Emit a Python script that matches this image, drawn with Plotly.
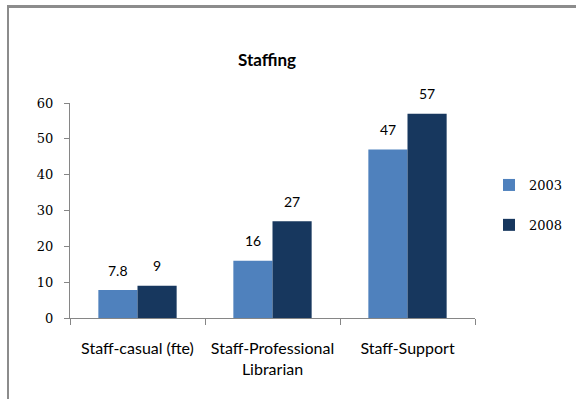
import plotly.graph_objects as go

categories = ["Staff-casual (fte)", "Staff-Professional<br>Librarian", "Staff-Support"]
years = ["2003", "2008"]
values_2003 = [7.8, 16, 47]
values_2008 = [9, 27, 57]
colors = ["#4F81BD", "#17375E"]
y_ticks = [0, 10, 20, 30, 40, 50, 60]

W, H = 576, 399
L, R, T, B = 70, 101, 103, 81
pw, ph = W - L - R, H - T - B
BARGAP = 0.42


def px_to_paper_x(px):
    return (px - L) / pw


def px_to_paper_y(py):
    return (H - B - py) / ph


fig = go.Figure()
series = [values_2003, values_2008]
for i, (yr, vals) in enumerate(zip(years, series)):
    fig.add_trace(go.Bar(
        x=categories, y=vals, name=yr,
        marker=dict(color=colors[i], line=dict(width=0)),
        legendgroup=yr,
    ))

# value labels above each bar
cat_px = pw / len(categories)
bar_px = cat_px * (1 - BARGAP) / len(series)
annotations = []
for i, vals in enumerate(series):
    offset = (i - (len(series) - 1) / 2) * bar_px
    for c, v in zip(categories, vals):
        annotations.append(dict(
            x=c, y=v, xref="x", yref="y", text=f"{v:g}", showarrow=False,
            xshift=offset, yshift=20, yanchor="middle",
            font=dict(family="Lato, sans-serif", size=14, color="#000"),
        ))

fig.update_layout(
    width=W, height=H,
    margin=dict(l=L, r=R, t=T, b=B, autoexpand=False),
    paper_bgcolor="white", plot_bgcolor="white",
    barmode="group", bargap=BARGAP, bargroupgap=0,
    title=dict(text="<b>Staffing</b>", x=267 / W, xanchor="center",
               y=1 - 60 / H, yanchor="middle",
               font=dict(family="Lato, sans-serif", size=17, color="#000")),
    font=dict(family="Lato, sans-serif", size=13, color="#000"),
    legend=dict(x=px_to_paper_x(489), xanchor="left", y=px_to_paper_y(205), yanchor="middle",
                tracegroupgap=20, font=dict(family="DejaVu Serif, serif", size=13),
                itemwidth=30, bgcolor="rgba(0,0,0,0)"),
    showlegend=True,
    annotations=annotations,
    shapes=[
        dict(type="line", xref="paper", yref="paper",
             x0=px_to_paper_x(8), x1=px_to_paper_x(8),
             y0=px_to_paper_y(399), y1=px_to_paper_y(6),
             line=dict(color="#8c8c8c", width=2)),
        dict(type="line", xref="paper", yref="paper",
             x0=px_to_paper_x(7), x1=px_to_paper_x(576),
             y0=px_to_paper_y(6.5), y1=px_to_paper_y(6.5),
             line=dict(color="#8c8c8c", width=3)),
    ],
)
fig.update_xaxes(showline=True, linecolor="#868686", linewidth=1, ticks="outside",
                 tickson="boundaries", ticklen=6, tickcolor="#868686", showgrid=False,
                 ticklabelstandoff=16, automargin=False,
                 tickfont=dict(family="Lato, sans-serif", size=16))
fig.update_yaxes(range=[0, 60], tickvals=y_ticks, showline=True, linecolor="#868686",
                 linewidth=1, ticks="outside", ticklen=5, tickcolor="#868686",
                 showgrid=False, zeroline=False, automargin=False, ticklabelstandoff=8,
                 tickfont=dict(family="DejaVu Serif, serif", size=13))

fig.write_html("out.html", config={"displayModeBar": False})
